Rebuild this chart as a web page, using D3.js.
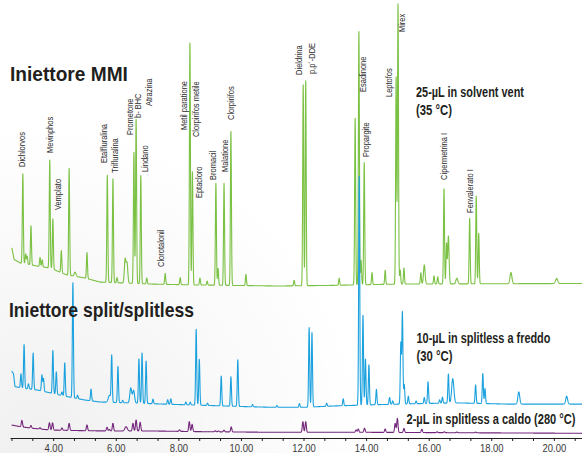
<!DOCTYPE html>
<html>
<head>
<meta charset="utf-8">
<script src="https://cdn.jsdelivr.net/npm/d3@7"></script>
<style>
  html, body { margin: 0; padding: 0; background: #fff; }
  svg { display: block; font-family: "Liberation Sans", Arial, sans-serif; }
</style>
</head>
<body>
<svg id="chart" width="582" height="453"></svg>
<script>
// ─── Data (retention time in minutes, signal in relative units) ───

// MMI injector, 25 µL solvent vent — [time, height, width?]
const mmiPeaks = [
  [3.03, 32], [3.12, 3.6], [3.17, 2.9], [3.29, 14], [3.58, 3.2], [3.65, 2.5],
  [3.89, 38.6], [3.99, 18], [4.26, 7.9], [4.51, 38.2], [4.70, 1.5, 0.03],
  [5.08, 9.3], [5.73, 38.2], [5.91, 37.1], [6.04, 1.8], [6.30, 8.5, 0.025],
  [6.36, 7, 0.025], [6.58, 46.8], [6.65, 58.6], [6.80, 38.6], [6.99, 2.1],
  [7.58, 3.9], [8.06, 2.5], [8.37, 86.4], [8.45, 40.4], [8.69, 2.5],
  [8.92, 1.4], [9.20, 36.4], [9.27, 6], [9.46, 36.4], [9.68, 55],
  [10.16, 4], [11.70, 2], [11.99, 71.8], [12.07, 73.2], [13.14, 2.5],
  [13.65, 59.5], [13.77, 90.5], [13.84, 8.8], [13.94, 43.6], [14.19, 4.3],
  [14.61, 5], [14.96, 74], [15.02, 100], [15.09, 5], [15.21, 5.7],
  [15.75, 4], [15.86, 6.8, 0.025], [16.17, 2.9], [16.29, 2.5], [16.49, 34],
  [16.57, 14.3], [16.63, 17.1, 0.022], [16.90, 2, 0.03], [17.31, 23.4],
  [17.52, 31.3], [17.60, 18], [18.63, 4, 0.03], [20.09, 1.8, 0.035]
];
const mmiBaseline = [
  [2.68, 13.6], [2.75, 9.5], [2.95, 8.2], [3.5, 7.1], [3.9, 6.4], [4.45, 3.9],
  [5.0, 2.9], [5.5, 1.4], [7.1, 0.7], [8.4, 0.4], [11.2, 0], [12.8, 0.2],
  [15.1, 0.7], [20.9, 0.9]
];

// split/splitless, 10 µL cold splitless
const coldPeaks = [
  [2.97, 6.1], [3.07, 19], [3.21, 2.2], [3.36, 15.8], [3.64, 7], [3.69, 5.6],
  [3.99, 18.7], [4.10, 9.7], [4.28, 1.5], [4.37, 14.5], [4.63, 50], [4.78, 1.5],
  [5.21, 5.1], [5.80, 3, 0.04], [5.87, 20], [6.07, 15.7], [6.22, 1],
  [6.48, 6.5, 0.03], [6.57, 5.5, 0.03], [6.74, 19.3], [6.84, 21.9], [6.97, 18.4],
  [7.19, 2], [7.66, 2], [7.76, 2.4], [8.24, 1.2], [8.38, 1.2], [8.57, 33],
  [8.67, 19.9], [8.93, 1], [9.37, 13], [9.68, 12.8], [9.90, 20.3],
  [10.37, 1], [11.15, 0.8], [11.87, 1.6], [12.18, 34.6], [12.27, 32.3],
  [12.74, 1.3], [13.27, 3], [13.78, 99.5], [13.90, 39], [13.98, 20],
  [14.09, 17.4], [14.33, 6.7], [14.75, 3], [14.85, 1.5], [15.11, 26.5],
  [15.16, 39.9], [15.22, 8.4], [15.35, 3.3], [15.60, 1.2], [15.86, 2.6],
  [15.98, 9.4], [16.35, 1.5], [16.44, 2.6], [16.63, 12.6], [16.77, 10.6, 0.035],
  [17.50, 8], [17.73, 13], [17.80, 6.5], [18.88, 5.3, 0.03], [20.41, 3.4, 0.03]
];
const coldBaseline = [
  [2.67, 16], [2.73, 15], [2.78, 9.3], [3.0, 8.7], [3.5, 7.8], [4.0, 6.3],
  [4.5, 4.8], [5.0, 3.5], [5.5, 2.6], [6.5, 2.2], [7.5, 1.7], [8.5, 1.3],
  [10.0, 0.65], [11.0, 0.3], [12.0, 0.3], [13.0, 0.9], [14.5, 1.5],
  [16.0, 2], [17.0, 2.2], [18.5, 1.7], [20.9, 1.7]
];

// split/splitless, 2 µL hot splitless
const hotPeaks = [
  [3.00, 6.5], [3.29, 2.5], [3.58, 1.3], [3.88, 7.2], [3.98, 7.2], [4.28, 2.3],
  [4.51, 7], [5.08, 5.7], [5.72, 3.7], [5.80, 1.5], [5.91, 7.7],
  [6.33, 4.3, 0.04], [6.55, 7.7], [6.65, 11], [6.78, 8.7], [8.04, 1.5],
  [8.35, 9.8], [8.44, 7.2], [9.18, 1], [9.28, 0.8], [9.46, 1.7], [9.69, 5],
  [11.98, 10.6], [12.07, 10.6], [13.68, 2.3], [13.75, 3.3], [13.95, 4],
  [14.61, 3.3], [14.93, 9], [15.00, 14], [15.21, 4], [15.78, 3.3],
  [16.27, 0.8], [16.50, 0.9], [16.90, 0.7], [17.50, 0.7]
];
const hotBaseline = [
  [2.67, 9], [2.95, 7.3], [3.35, 5.7], [3.9, 4], [5.0, 3.3], [5.9, 3],
  [7.2, 3], [8.8, 2.3], [11.0, 1.7], [14.0, 1.7], [20.9, 0.7]
];

// compound labels above the MMI trace: name, time, label foot level
const labelNames = [
  "Dichlorvos", "Mevinphos", "Vemplato", "Etalfluralina", "Trifluralina",
  "Prometone", "b- BHC", "Atrazina", "Lindano", "Clorotalonil",
  "Metil paratione", "Clorpirifos metile", "Eptacloro", "Bromacil",
  "Malatione", "Clorpirifos", "Dieldrina", "p,p´-DDE", "Esadinone",
  "Propargite", "Leptofos", "Mirex", "Cipermetrina I", "Fenvalerato I"
];
const labelTimes = [
  3.01, 3.90, 4.14, 5.64, 5.98, 6.47, 6.71, 7.06, 6.93, 7.46,
  8.17, 8.58, 8.66, 9.11, 9.48, 9.67, 11.86, 12.27, 13.90,
  14.00, 14.72, 15.16, 16.49, 17.31
];
const labelLevels = [
  42.5, 47.5, 27.1, 43.9, 40.4, 53.9, 60, 64.3, 40.7, 6.8,
  55.7, 53.2, 31.4, 37.9, 40.7, 59.3, 75.4, 75.7, 69.3,
  46.1, 67.5, 90.7, 37.9, 26.1
];

const axisLabels = [4, 6, 8, 10, 12, 14, 16, 18, 20];

// ─── Setup ───
const svg = d3.select("#chart");
const green = "#7bc143", blue = "#1ba1de", purple = "#74267c", ink = "#231f20";

const x = d3.scaleLinear().domain([2.62, 20.9]).range([10, 582]);
const yMmi = d3.scaleLinear().domain([0, 100]).range([286, 6]);
const yCold = d3.scaleLinear().domain([0, 100]).range([408, 178]);
const yHot = d3.scaleLinear().domain([0, 20]).range([434, 414]);

// faint grey sheen, lower left corner
const defs = svg.append("defs");
const grad = defs.append("radialGradient")
  .attr("id", "sheen")
  .attr("gradientUnits", "userSpaceOnUse")
  .attr("cx", 40).attr("cy", 453).attr("r", 330);
grad.append("stop").attr("offset", 0).attr("stop-color", "#000").attr("stop-opacity", 0.06);
grad.append("stop").attr("offset", 0.5).attr("stop-color", "#000").attr("stop-opacity", 0.03);
grad.append("stop").attr("offset", 1).attr("stop-color", "#000").attr("stop-opacity", 0);
svg.append("rect").attr("x", 0).attr("y", 0).attr("width", 582).attr("height", 453)
  .attr("fill", "url(#sheen)");

// ─── Build a trace from baseline + peak list ───
function buildTrace(peaks, baseline, sigma, t0, t1) {
  const baseAt = d3.scaleLinear()
    .domain(baseline.map((d) => d[0]))
    .range(baseline.map((d) => d[1]))
    .clamp(true);
  const times = d3.range(t0, t1, 0.004).concat(peaks.map((p) => p[0]), [t1]);
  times.sort((a, b) => a - b);
  return times.map((t) => {
    let v = baseAt(t);
    for (const p of peaks) {
      const s = p[2] || sigma;
      const z = (t - p[0]) / s;
      if (Math.abs(z) < 6) v += p[1] * Math.exp(-0.5 * z * z);
    }
    return [t, v];
  });
}

function drawTrace(pts, yScale, color) {
  const line = d3.line().x((d) => x(d[0])).y((d) => yScale(d[1]));
  svg.append("path")
    .datum(pts)
    .attr("d", line)
    .attr("fill", "none")
    .attr("stroke", color)
    .attr("stroke-width", 1.1)
    .attr("stroke-linejoin", "round");
}

drawTrace(buildTrace(mmiPeaks, mmiBaseline, 0.016, 2.68, 20.9), yMmi, green);
drawTrace(buildTrace(hotPeaks, hotBaseline, 0.02, 2.67, 20.9), yHot, purple);
drawTrace(buildTrace(coldPeaks, coldBaseline, 0.017, 2.67, 20.9), yCold, blue);

// ─── Compound labels (rotated) ───
const gLabels = svg.append("g")
  .style("font-size", "8.5px")
  .style("fill", "#2b2b2b");
labelNames.forEach((name, i) => {
  gLabels.append("text")
    .attr("transform", `translate(${x(labelTimes[i])},${yMmi(labelLevels[i])}) rotate(-90) scale(0.88,1)`)
    .attr("dy", "0.35em")
    .text(name);
});

// ─── Titles and run notes (condensed by a horizontal scale) ───
function note(str, px, py, size, len) {
  const t = svg.append("text")
    .style("font-size", size + "px")
    .style("font-weight", "bold")
    .style("fill", ink)
    .text(str);
  const natural = t.node().getComputedTextLength() || len;
  t.attr("transform", `translate(${px},${py}) scale(${len / natural},1)`);
}
note("Iniettore MMI", 10, 80.5, 20.5, 118);
note("Iniettore split/splitless", 9, 316.8, 20, 185);
note("25-µL in solvent vent", 416, 96.8, 15, 108);
note("(35 °C)", 416, 115, 15, 36);
note("10-µL in splitless a freddo", 416.5, 343.3, 15, 134);
note("(30 °C)", 416.5, 361, 15, 36);
note("2-µL in splitless a caldo (280 °C)", 406.5, 424.3, 15, 169);

// ─── X axis ───
const tickVals = d3.range(8, 63, 2).map((i) => i / 3);
const isMajor = (v) => axisLabels.some((m) => Math.abs(m - v) < 1e-6);
const gAxis = svg.append("g")
  .attr("transform", "translate(0,438)")
  .call(
    d3.axisBottom(x)
      .tickValues(tickVals)
      .tickSize(3)
      .tickSizeOuter(0)
      .tickFormat((v) => (isMajor(v) ? d3.format(".2f")(v) : ""))
  );
gAxis.select(".domain").attr("stroke", ink).attr("stroke-width", 1);
gAxis.selectAll(".tick line").attr("stroke", ink);
gAxis.selectAll(".tick text")
  .attr("y", 14.2)
  .attr("dy", null)
  .attr("transform", "scale(0.86,1)")
  .style("font-size", "11px")
  .style("font-family", "'Liberation Sans', Arial, sans-serif")
  .style("fill", "#3a3a3a");
</script>
</body>
</html>
